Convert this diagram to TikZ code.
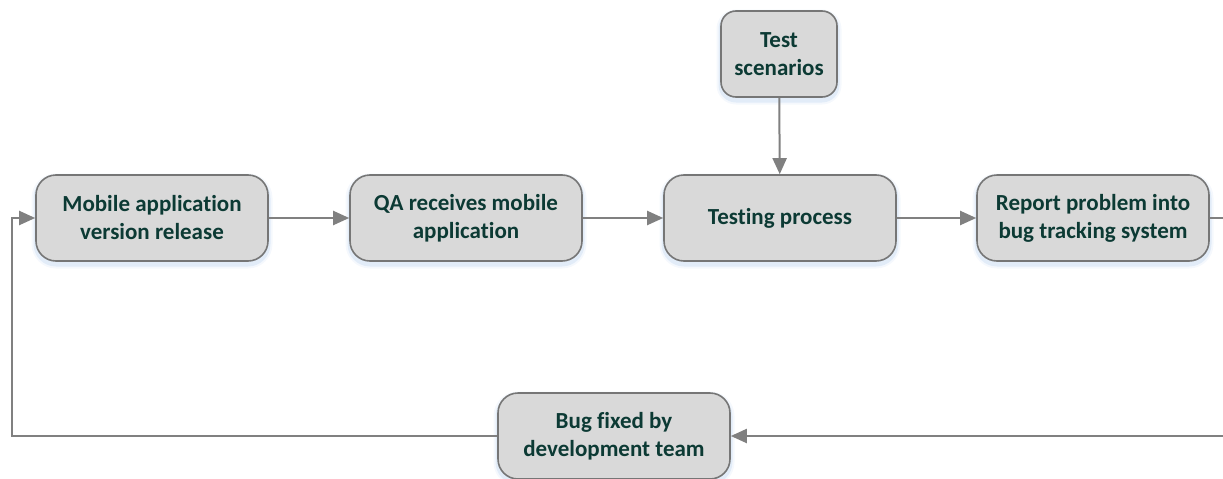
\documentclass[tikz,border=0pt]{standalone}
\usepackage{fontspec}
\setmainfont{Carlito}[Ligatures=NoCommon]
\usetikzlibrary{arrows.meta}

\definecolor{boxfill}{RGB}{217,217,217}
\definecolor{boxline}{RGB}{118,118,118}
\definecolor{linkgray}{RGB}{128,128,128}
\definecolor{labeltext}{RGB}{12,58,52}
\definecolor{glow}{RGB}{170,200,235}

\tikzset{
  procbox/.style={
    draw=boxline, line width=1.6pt, fill=boxfill,
    rounded corners=20pt, minimum width=232pt, minimum height=86pt,
    inner sep=0pt, align=center, text=labeltext,
    font=\fontsize{23}{28}\selectfont\bfseries,
    % soft bluish glow under each box
    preaction={draw=glow, line width=9pt, draw opacity=0.12,
               transform canvas={yshift=-3pt}},
    preaction={draw=glow, line width=5pt, draw opacity=0.25,
               transform canvas={yshift=-3pt}}
  },
  smallbox/.style={procbox, minimum width=116pt, rounded corners=15pt},
  link/.style={draw=linkgray, line width=2pt},
  flow/.style={link, -{Triangle[length=16pt,width=14pt]}}
}

\begin{document}
\begin{tikzpicture}[x=1pt,y=-1pt]
  \useasboundingbox (0,0) rectangle (1223,479);

  % main row of process steps
  \node[procbox]  (release) at (152,218)  {Mobile application\\version release};
  \node[procbox]  (receive) at (466,218)  {QA receives mobile\\application};
  \node[procbox]  (testing) at (780,218)  {Testing process};
  \node[procbox]  (report)  at (1093,218) {Report problem into\\bug tracking system};

  % inputs and feedback step
  \node[smallbox] (scen)    at (779,54)   {Test\\scenarios};
  \node[procbox]  (fixed)   at (614,436)  {Bug fixed by\\development team};

  % loop route coordinates
  \coordinate (outtop) at (1223,218);
  \coordinate (outbot) at (1223,436);
  \coordinate (lbot)   at (12,436);
  \coordinate (ltop)   at (12,218);

  % connectors
  \draw[flow] (release) -- (receive);
  \draw[flow] (receive) -- (testing);
  \draw[flow] (testing) -- (report);
  \draw[flow] (scen) -- (testing);
  \draw[link] (report.east) -- (outtop);
  \draw[flow] (outbot) -- (fixed.east);
  \draw[flow] (fixed.west) -- (lbot) -- (ltop) -- (release.west);
\end{tikzpicture}
\end{document}
